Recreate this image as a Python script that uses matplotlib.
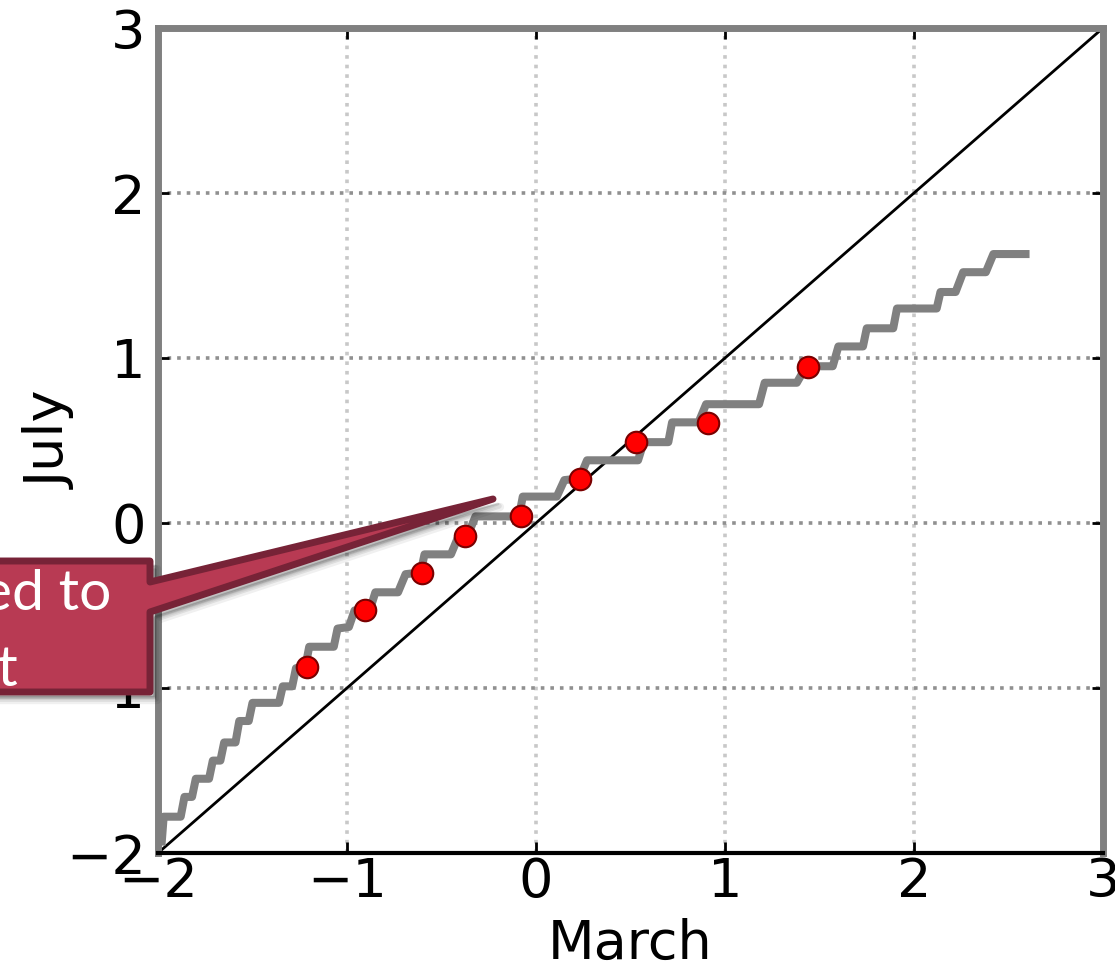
import numpy as np
import matplotlib.pyplot as plt
from matplotlib.patches import Polygon

# deciles of the two samples (red dots)
decile_march = [-1.212, -0.905, -0.603, -0.376, -0.079, 0.233, 0.529, 0.910, 1.439]
decile_july = [-0.873, -0.527, -0.303, -0.079, 0.042, 0.267, 0.491, 0.606, 0.945]

# sorted-sample q-q curve (grey staircase)
qq_march = [-1.98,
            -1.97, -1.88, -1.86, -1.82, -1.80, -1.73, -1.71, -1.67, -1.65, -1.59,
            -1.57, -1.52, -1.50, -1.36, -1.34, -1.29, -1.27, -1.22, -1.20, -1.07,
            -1.05, -0.99, -0.96, -0.88, -0.85, -0.73, -0.69, -0.61, -0.59, -0.45,
            -0.41, -0.36, -0.32, -0.09, -0.07, 0.11, 0.15, 0.23, 0.27, 0.54,
            0.57, 0.70, 0.72, 0.86, 0.90, 1.18, 1.21, 1.38, 1.43, 1.57,
            1.60, 1.73, 1.75, 1.89, 1.91, 2.12, 2.14, 2.22, 2.26, 2.38,
            2.42, 2.59]
qq_july = [-1.93,
           -1.78, -1.78, -1.66, -1.66, -1.55, -1.55, -1.44, -1.44, -1.33, -1.33,
           -1.20, -1.20, -1.09, -1.09, -0.99, -0.99, -0.88, -0.87, -0.75, -0.75,
           -0.64, -0.63, -0.53, -0.53, -0.42, -0.42, -0.31, -0.30, -0.19, -0.19,
           -0.08, -0.07, 0.04, 0.04, 0.16, 0.16, 0.26, 0.27, 0.38, 0.38,
           0.49, 0.49, 0.61, 0.61, 0.72, 0.72, 0.85, 0.85, 0.95, 0.95,
           1.07, 1.07, 1.18, 1.18, 1.30, 1.30, 1.40, 1.40, 1.52, 1.52,
           1.63, 1.63]

ticks = [-2, -1, 0, 1, 2, 3]
tick_labels = ['\u22122', '\u22121', '0', '1', '2', '3']

W, H = 1115, 977
fig = plt.figure(figsize=(W / 100, H / 100), dpi=100)
ax = fig.add_axes([158 / W, 1 - 853 / H, (1103 - 158) / W, (853 - 28) / H])

ax.plot([-2, 3], [-2, 3], color='black', lw=2, zorder=2)
ax.plot(qq_march, qq_july, color='#808080', lw=5.8, zorder=3)
ax.plot(decile_march, decile_july, 'o', color='#ff0000', mec='#7a0000', mew=1.5,
        ms=15.5, zorder=4)

ax.set_xlim(-2, 3)
ax.set_ylim(-2, 3)
ax.set_xticks(ticks)
ax.set_yticks(ticks)
ax.set_xticklabels(tick_labels)
ax.set_yticklabels(tick_labels)

ax.xaxis.grid(True, color='#c8c8c8', linestyle=':', lw=2.6)
ax.yaxis.grid(True, color='#909090', linestyle=':', lw=2.6)
ax.set_axisbelow(True)

for side in ['left', 'top', 'right']:
    ax.spines[side].set_color('#808080')
    ax.spines[side].set_linewidth(5)
ax.spines['bottom'].set_color('black')
ax.spines['bottom'].set_linewidth(3)

ax.tick_params(direction='in', length=8, width=2, labelsize=39, top=True, right=True)
ax.tick_params(axis='x', pad=2)
ax.tick_params(axis='y', pad=9)

ax.set_xlabel('March', fontsize=39, labelpad=7)
ax.set_ylabel('July', fontsize=39, labelpad=-8)


def fig_xy(pts):
    return [(x / W, 1 - y / H) for x, y in pts]


# callout shape (pixel positions, y downward)
callout = [(-80, 561), (150, 561), (150, 582), (493, 499), (150, 612), (150, 692), (-80, 692)]

for k, (dx, dy, a) in enumerate([(7, 8, 0.06), (6, 7, 0.08), (5, 5, 0.12)]):
    shadow = Polygon(fig_xy([(x + dx, y + dy) for x, y in callout]), closed=True,
                     transform=fig.transFigure, facecolor='black', edgecolor='black',
                     lw=6 - k * 2, alpha=a, joinstyle='round', zorder=5)
    fig.add_artist(shadow)

box = Polygon(fig_xy(callout), closed=True, transform=fig.transFigure,
              facecolor='#b83a53', edgecolor='#772337', lw=5, joinstyle='round', zorder=6)
fig.add_artist(box)

fig.text(111 / W, 1 - 610 / H, 'Deciles compared to', color='white', fontsize=41,
         family=['Lato', 'DejaVu Sans'], ha='right', va='baseline', zorder=7)
fig.text(18 / W, 1 - 685 / H, 'the 1:1 line, not exact', color='white', fontsize=41,
         family=['Lato', 'DejaVu Sans'], ha='right', va='baseline', zorder=7)

fig.savefig('out.png', dpi=100)
